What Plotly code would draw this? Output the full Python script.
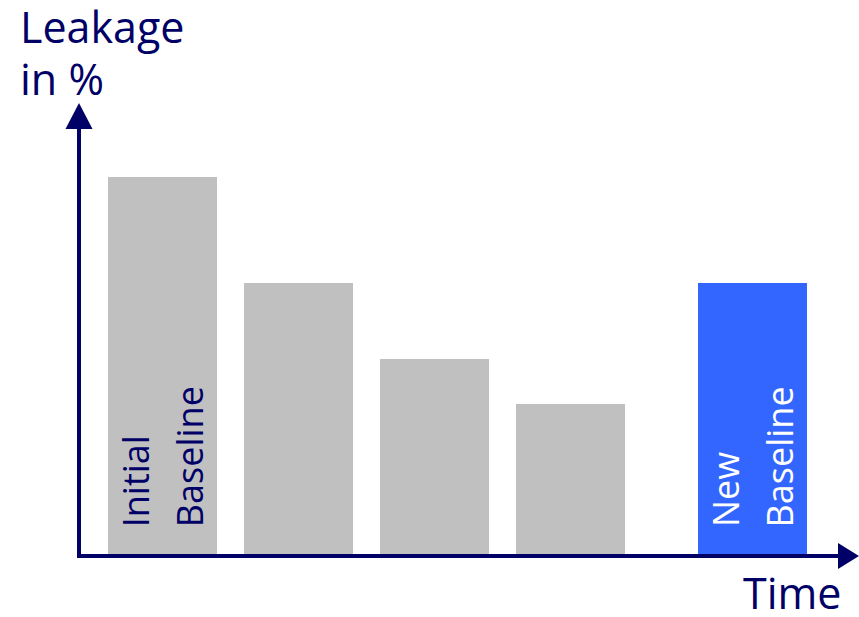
import plotly.graph_objects as go

# Leakage over successive time steps (relative %, first baseline = 100)
stages = ["Initial Baseline", "Step 1", "Step 2", "Step 3", "New Baseline"]
leakage = [100, 72, 52, 40, 72]
bar_colors = ["#c0c0c0", "#c0c0c0", "#c0c0c0", "#c0c0c0", "#3366ff"]
bar_labels = [("Initial", "Baseline"), None, None, None, ("New", "Baseline")]
label_colors = ["#000066", None, None, None, "#ffffff"]

# slot index for each bar along the time axis (gap before the new baseline)
slots = [0, 1, 2, 3, 4.34]

NAVY = "#000066"
FONT = "Open Sans"
W, H = 859, 617

# pixel scale of the axes
PX_PER_X = 136.0
PX_PER_Y = 3.79
x_range = [-162.5 / PX_PER_X, (W - 162.5) / PX_PER_X]
y_range = [-61.0 / PX_PER_Y, (H - 61.0) / PX_PER_Y]

fig = go.Figure(
    go.Bar(
        x=slots,
        y=leakage,
        width=0.8,
        marker=dict(color=bar_colors, line=dict(width=0)),
        hoverinfo="skip",
    )
)

# axes drawn as an L with arrowheads
ax_x = -83.5 / PX_PER_X
y_tip = 453.0 / PX_PER_Y
x_tip = x_range[1]
head_len_y = 26.0 / PX_PER_Y
head_half_y = 13.5 / PX_PER_X
head_len_x = 21.0 / PX_PER_X
head_half_x = 13.0 / PX_PER_Y

fig.add_shape(
    type="path",
    path=f"M {ax_x},{y_tip - head_len_y + 0.5} L {ax_x},0 L {x_tip - head_len_x + 0.02},0",
    line=dict(color=NAVY, width=4),
)
fig.add_shape(
    type="path",
    path=(f"M {ax_x - head_half_y},{y_tip - head_len_y} L {ax_x + head_half_y},{y_tip - head_len_y} "
          f"L {ax_x},{y_tip} Z"),
    line=dict(width=0),
    fillcolor=NAVY,
)
fig.add_shape(
    type="path",
    path=(f"M {x_tip - head_len_x},{-head_half_x} L {x_tip - head_len_x},{head_half_x} "
          f"L {x_tip},0 Z"),
    line=dict(width=0),
    fillcolor=NAVY,
)

# axis titles
title_font = dict(family=FONT, size=43, color=NAVY)
for txt, top in (("Leakage", -5), ("in %", 47)):
    fig.add_annotation(
        text=txt, xref="paper", yref="paper",
        x=18 / W, y=1 - top / H, xanchor="left", yanchor="top",
        showarrow=False, align="left", font=title_font,
    )
fig.add_annotation(
    text="Time", xref="paper", yref="paper",
    x=1 - 15 / W, y=0, xanchor="right", yanchor="bottom", yshift=-7,
    showarrow=False, font=title_font,
)

# vertical labels inside the baseline bars
for pos, lab, col in zip(slots, bar_labels, label_colors):
    if lab is None:
        continue
    for k, line in enumerate(lab):
        fig.add_annotation(
            text=line, x=pos + (-0.2 if k == 0 else 0.2), y=0,
            xanchor="center", yanchor="bottom", yshift=27,
            textangle=-90, showarrow=False,
            font=dict(family=FONT, size=36, color=col),
        )

fig.update_layout(
    width=W, height=H,
    margin=dict(l=0, r=0, t=0, b=0),
    plot_bgcolor="white", paper_bgcolor="white",
    showlegend=False,
    bargap=0,
    xaxis=dict(range=x_range, visible=False, fixedrange=True),
    yaxis=dict(range=y_range, visible=False, fixedrange=True),
)

fig.write_html("out.html")
